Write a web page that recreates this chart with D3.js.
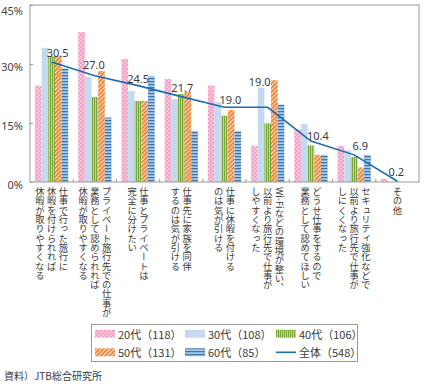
<!DOCTYPE html>
<head>
  <meta charset="utf-8">
  <script src="https://d3js.org/d3.v7.min.js"></script>
  <style>
    body { margin:0; background:#fff; }
    svg { display:block; }
    text { font-family: "Noto Sans CJK JP", "Noto Sans", sans-serif; fill:#3a3a3a; }
  </style>
</head>
<body>
  <svg width="424" height="385"></svg>
  <script>
    // categories (each label split into its vertical columns)
    var categories = [
      ['仕事で行った旅行に', '休暇を付けられれば', '休暇が取りやすくなる'],
      ['プライベート旅行先での仕事が', '業務として認められれば', '休暇が取りやすくなる'],
      ['仕事とプライベートは', '完全に分けたい'],
      ['仕事先に家族を同伴', 'するのは気が引ける'],
      ['仕事に休暇を付ける', 'のは気が引ける'],
      ['Wi-Fiなどの環境が整い、', '以前より旅行先で仕事が', 'しやすくなった'],
      ['どうせ仕事をするので', '業務として認めてほしい'],
      ['セキュリティ強化などで', '以前より旅行先で仕事が', 'しにくくなった'],
      ['その他']
    ];
    var seriesNames = ['20代（118）', '30代（108）', '40代（106）', '50代（131）', '60代（85）'];
    var s20 = [24.5, 38.1, 31.3, 26.2, 24.5, 9.2, 13.4, 9.2, 0.8];
    var s30 = [34.1, 26.7, 23.1, 21.1, 20.3, 24.0, 14.7, 8.1, 0];
    var s40 = [32.0, 21.6, 20.6, 22.4, 16.9, 14.9, 9.3, 6.4, 0];
    var s50 = [32.0, 28.2, 20.6, 22.9, 18.3, 25.9, 6.9, 3.7, 0];
    var s60 = [28.9, 16.4, 26.9, 13.0, 13.0, 19.7, 6.9, 6.9, 0];
    var totalName = '全体（548）';
    var total = [30.5, 27.0, 24.5, 21.7, 19.0, 19.0, 10.4, 6.9, 0.2];
    var yTicks = [0, 15, 30, 45];
    var source = '資料）JTB総合研究所';

    var series = [s20, s30, s40, s50, s60];
    var margin = {top: 5, right: 5, left: 30};
    var width = 424, plotBottom = 182;

    var svg = d3.select('svg');
    var defs = svg.append('defs');

    // fill patterns
    var p = defs.append('pattern').attr('id', 'p20').attr('patternUnits', 'userSpaceOnUse')
      .attr('width', 4).attr('height', 4);
    p.append('rect').attr('width', 4).attr('height', 4).attr('fill', '#f3a3c6');
    p.append('circle').attr('cx', 1).attr('cy', 1).attr('r', 0.7).attr('fill', '#fff');
    p.append('circle').attr('cx', 3).attr('cy', 3).attr('r', 0.7).attr('fill', '#fff');

    p = defs.append('pattern').attr('id', 'p30').attr('patternUnits', 'userSpaceOnUse')
      .attr('width', 4).attr('height', 4);
    p.append('rect').attr('width', 4).attr('height', 4).attr('fill', '#c5d9ef');

    p = defs.append('pattern').attr('id', 'p40').attr('patternUnits', 'userSpaceOnUse')
      .attr('width', 2).attr('height', 4);
    p.append('rect').attr('width', 2).attr('height', 4).attr('fill', '#b9d684');
    p.append('rect').attr('width', 1).attr('height', 4).attr('fill', '#7aa83a');

    p = defs.append('pattern').attr('id', 'p50').attr('patternUnits', 'userSpaceOnUse')
      .attr('width', 3).attr('height', 3).attr('patternTransform', 'rotate(45)');
    p.append('rect').attr('width', 3).attr('height', 3).attr('fill', '#f0873a');
    p.append('rect').attr('width', 1).attr('height', 3).attr('fill', '#fde3cf');

    p = defs.append('pattern').attr('id', 'p60').attr('patternUnits', 'userSpaceOnUse')
      .attr('width', 4).attr('height', 3);
    p.append('rect').attr('width', 4).attr('height', 3).attr('fill', '#a9c9e8');
    p.append('rect').attr('width', 4).attr('height', 1.3).attr('fill', '#3f78b0');

    var fills = ['url(#p20)', 'url(#p30)', 'url(#p40)', 'url(#p50)', 'url(#p60)'];
    var lineColor = '#1b6db4';

    // scales
    var x0 = d3.scaleBand().domain(d3.range(categories.length))
      .range([margin.left, width - margin.right]).paddingInner(0).paddingOuter(0);
    var x1 = d3.scaleBand().domain(d3.range(series.length))
      .range([5, x0.bandwidth() - 5]);
    var y = d3.scaleLinear().domain([0, 45]).range([plotBottom, margin.top]);

    // bars
    series.forEach(function(s, si) {
      svg.append('g').selectAll('rect').data(s).join('rect')
        .attr('x', (d, i) => x0(i) + x1(si))
        .attr('y', d => y(d))
        .attr('width', x1.bandwidth())
        .attr('height', d => plotBottom - y(d))
        .attr('fill', fills[si]);
    });

    // frame
    svg.append('rect')
      .attr('x', margin.left).attr('y', margin.top)
      .attr('width', width - margin.right - margin.left).attr('height', plotBottom - margin.top)
      .attr('fill', 'none').attr('stroke', '#9a9a9a').attr('stroke-width', 1);

    // y axis (labels sit a little below their ticks, as in the original)
    var yAxis = svg.append('g').attr('transform', 'translate(' + margin.left + ',0)')
      .call(d3.axisLeft(y).tickValues(yTicks).tickSize(-3).tickPadding(7).tickFormat(d => d + '%'));
    yAxis.select('.domain').remove();
    yAxis.selectAll('line').attr('stroke', '#9a9a9a');
    yAxis.selectAll('text').style('font-size', '11px').style('fill', '#444')
      .style('font-family', '"Noto Sans", sans-serif')
      .attr('dy', d => d === 45 ? '0.85em' : '0.55em');

    // category boundary ticks
    svg.append('g').selectAll('line').data(d3.range(1, categories.length)).join('line')
      .attr('x1', i => x0(i)).attr('x2', i => x0(i))
      .attr('y1', plotBottom - 3).attr('y2', plotBottom)
      .attr('stroke', '#9a9a9a');

    // total line
    var cx = i => x0(i) + x0.bandwidth() / 2;
    svg.append('path')
      .attr('d', d3.line().x((d, i) => cx(i)).y(d => y(d))(total))
      .attr('fill', 'none').attr('stroke', lineColor).attr('stroke-width', 1.6);

    // value labels
    var labelDx = [6, -1, 0, 1, 6, -8, 7, 6, -1];
    var labelDy = [10, 11, 7, 9, 8, 26, 6, 9, 9.5];
    svg.append('g').selectAll('text').data(total).join('text')
      .attr('x', (d, i) => cx(i) + labelDx[i])
      .attr('y', (d, i) => y(d) - labelDy[i])
      .attr('text-anchor', 'middle').attr('dominant-baseline', 'central')
      .style('font-size', '11px').style('font-family', '"Noto Sans", sans-serif')
      .text(d => d.toFixed(1));

    // vertical category labels
    var colGap = 11.8;
    categories.forEach(function(lines, i) {
      lines.forEach(function(t, j) {
        svg.append('text')
          .attr('x', cx(i) + ((lines.length - 1) / 2 - j) * colGap)
          .attr('y', 187)
          .style('writing-mode', 'vertical-rl')
          .style('font-size', '9.3px')
          .text(t);
      });
    });

    // legend
    var lg = svg.append('g');
    lg.append('rect').attr('x', 91.5).attr('y', 324.5).attr('width', 266).attr('height', 37)
      .attr('fill', '#fff').attr('stroke', '#9a9a9a');
    var colX = [95, 185, 276];
    var rowY = [333.7, 352.3];
    var items = seriesNames.map((n, i) => ({name: n, fill: fills[i]}));
    items.push({name: totalName, line: true});
    items.forEach(function(it, i) {
      var lx = colX[i % 3], ly = rowY[Math.floor(i / 3)];
      if (it.line) {
        lg.append('line').attr('x1', lx).attr('x2', lx + 20).attr('y1', ly).attr('y2', ly)
          .attr('stroke', lineColor).attr('stroke-width', 1.6);
      } else {
        lg.append('rect').attr('x', lx).attr('y', ly - 4).attr('width', 20).attr('height', 8)
          .attr('fill', it.fill);
      }
      lg.append('text').attr('x', lx + 23).attr('y', ly).attr('dominant-baseline', 'central')
        .style('font-size', '11px').text(it.name);
    });

    svg.append('text').attr('x', 4).attr('y', 375).attr('dominant-baseline', 'central')
      .style('font-size', '10px').text(source);
  </script>
</body>
